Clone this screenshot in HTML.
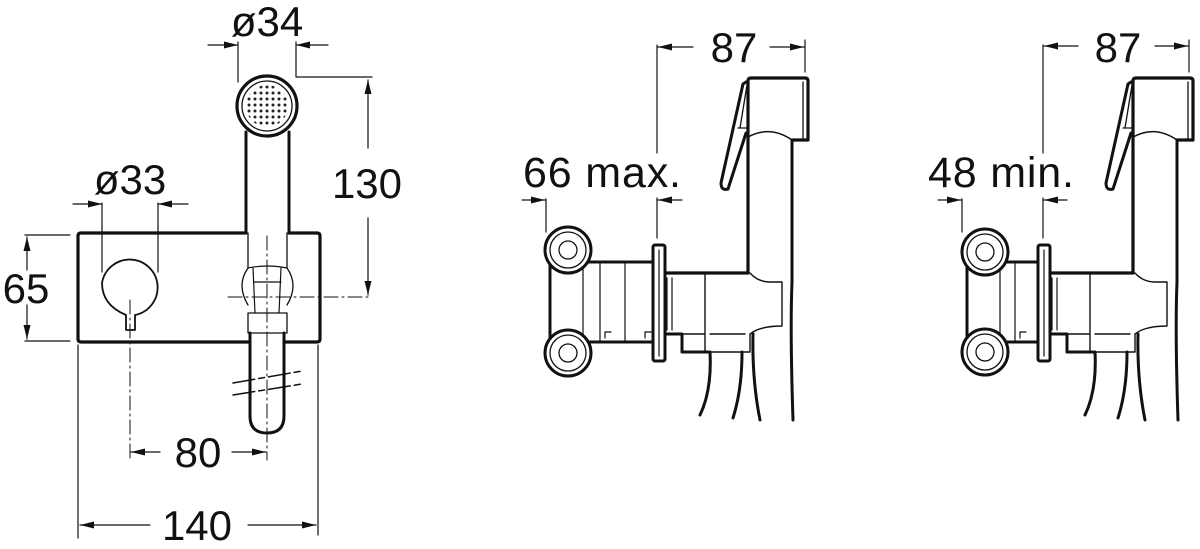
<!DOCTYPE html>
<html><head><meta charset="utf-8"><style>
html,body{margin:0;padding:0;background:#fff}
svg{display:block}
text{font-family:"Liberation Sans",Arial,sans-serif;fill:#111}
</style></head><body>
<svg width="1200" height="549" viewBox="0 0 1200 549" xmlns="http://www.w3.org/2000/svg">
<defs>
<marker id="a" markerUnits="userSpaceOnUse" markerWidth="14" markerHeight="8" refX="14" refY="4" orient="auto"><path d="M0,0.5 L14,4 L0,7.5z" fill="#111"/></marker>
<pattern id="dots" width="6" height="6" patternUnits="userSpaceOnUse"><circle cx="3" cy="3" r="1.5" fill="#222"/></pattern>
<g id="spout" fill="none" stroke="#111" stroke-linejoin="round" stroke-linecap="round">
 <path d="M748,137 L748,81 Q748,78 751,78 L805,78 Q808,78 808,81 L808,140 L792,140" stroke-width="3.2"/>
 <path d="M803,82 L803,140" stroke-width="1.3"/>
 <path d="M748,137 Q770,125 792,140" stroke-width="1.5"/>
 <path d="M746,82 L743,84 L721,183 Q721,191 728,189 L746,133" stroke-width="3"/>
 <path d="M738,128 L748,128 M747,85 L740,128" stroke-width="1.3"/>
 <path d="M748,137 L748,273 L665,273" stroke-width="3.2"/>
 <path d="M792,140 L792,282 Q790,330 793,420" stroke-width="3"/>
 <path d="M750,273 Q758,282 770,282 L782,282 L782,326 Q760,326 750,334" stroke-width="1.4"/>
 <path d="M665,334 L682,334 L682,352 L708,352" stroke-width="3"/>
 <path d="M705,273 L705,352 M682,334 L705,334 M710,334 L745,334 M750,334 L750,352 L708,352" stroke-width="1.4"/>
 <path d="M667,278 L667,330 M672,278 L672,330" stroke-width="1.2"/>
 <path d="M710,352 Q712,390 700,415 M742,352 Q742,390 733,418 M753,334 Q752,380 760,420" stroke-width="3"/>
 <rect x="653" y="245" width="12" height="116" rx="2" stroke-width="3"/>
 <path d="M659,250 L659,356" stroke-width="1.2"/>
</g>
</defs>

<g fill="none" stroke="#111" stroke-linecap="round" stroke-linejoin="round">
 <path d="M246,233 L81,233 Q78,233 78,236 L78,339 Q78,342 81,342 L250,342 M284,342 L317,342 Q320,342 320,339 L320,236 Q320,233 317,233 L289,233" stroke-width="3.2"/>
 <path d="M246,132 L246,233 M289,132 L289,233" stroke-width="3"/>
 <path d="M248,233 L248,268 M287,233 L287,268" stroke-width="1.3"/>
 <circle cx="267" cy="106" r="30" stroke-width="3.2"/>
 <circle cx="267" cy="106" r="25" stroke-width="1.3"/>
 <circle cx="267" cy="106" r="21" fill="url(#dots)" stroke="none"/>
 <path d="M248,268 Q236,285 248,305 M287,268 Q299,285 287,305" stroke-width="1.3"/>
 <path d="M248,268 Q267,264 287,268" stroke-width="1.2"/>
 <path d="M253,268 L255,313 M281,268 L279,313 M254,282 L281,282" stroke-width="1.2"/>
 <rect x="248" y="313" width="39" height="20" stroke-width="1.3"/>
 <path d="M250,333 L250,416 Q250,433 267,433 Q284,433 284,416 L284,333" stroke-width="3"/>
 <path d="M233,383 L302,371 M233,395 L302,384" stroke-width="1.5" stroke-dasharray="22,4,6,4"/>
 <path d="M126,315 Q102,305 102,283 A28,28 0 1 1 135,315 L135,330 L126,330 Z" stroke-width="1.8"/>
 <path d="M130,300 L130,460 M267,236 L267,460 M228,297 L372,297" stroke-width="1" stroke-dasharray="14,4,2,4"/>
 <g stroke-width="1.2">
  <path d="M238,42 L238,82 M296,42 L296,77 M296,77 L372,77"/>
  <path d="M208,45 L238,45" marker-end="url(#a)"/>
  <path d="M328,45 L296,45" marker-end="url(#a)"/>
  <path d="M368,148 L368,80" marker-end="url(#a)"/>
  <path d="M368,218 L368,295" marker-end="url(#a)"/>
  <path d="M102,203 L102,272 M158,203 L158,272"/>
  <path d="M73,204 L102,204" marker-end="url(#a)"/>
  <path d="M188,204 L158,204" marker-end="url(#a)"/>
  <path d="M25,235 L70,235 M25,341 L70,341"/>
  <path d="M27,270 L27,237" marker-end="url(#a)"/>
  <path d="M27,305 L27,339" marker-end="url(#a)"/>
  <path d="M160,452 L131,452" marker-end="url(#a)"/>
  <path d="M232,452 L266,452" marker-end="url(#a)"/>
  <path d="M78,345 L78,538 M318,345 L318,535"/>
  <path d="M150,525 L80,525" marker-end="url(#a)"/>
  <path d="M248,525 L316,525" marker-end="url(#a)"/>
 </g>
</g>
<text x="267" y="36" font-size="42" text-anchor="middle">ø34</text>
<text x="367" y="198" font-size="42" text-anchor="middle">130</text>
<text x="130" y="194" font-size="42" text-anchor="middle">ø33</text>
<text x="26" y="303" font-size="42" text-anchor="middle">65</text>
<text x="198" y="467" font-size="42" text-anchor="middle">80</text>
<text x="197" y="540" font-size="42" text-anchor="middle">140</text>

<use href="#spout"/>
<g fill="none" stroke="#111" stroke-linecap="round" stroke-linejoin="round">
 <path d="M552,262 L653,262 M552,342 L653,342" stroke-width="3"/>
 <path d="M550,262 L550,342" stroke-width="3"/>
 <path d="M583,262 L583,342 M600,262 L600,342 M625,262 L625,342" stroke-width="1.2"/>
 <path d="M605,338 L605,332 L611,332 M645,338 L645,332 L651,332" stroke-width="1.2"/>
 <circle cx="568" cy="250" r="23" fill="#fff" stroke-width="3"/>
 <circle cx="568" cy="250" r="18" stroke-width="1.3"/>
 <circle cx="568" cy="250" r="9" stroke-width="1.3"/>
 <circle cx="568" cy="353" r="23" fill="#fff" stroke-width="3"/>
 <circle cx="568" cy="353" r="18" stroke-width="1.3"/>
 <circle cx="568" cy="353" r="9" stroke-width="1.3"/>
 <g stroke-width="1.2">
  <path d="M657,45 L657,153 M657,198 L657,238 M805,40 L805,72 M546,199 L546,232"/>
  <path d="M693,47 L658,47" marker-end="url(#a)"/>
  <path d="M770,47 L804,47" marker-end="url(#a)"/>
  <path d="M522,200 L545,200" marker-end="url(#a)"/>
  <path d="M682,200 L658,200" marker-end="url(#a)"/>
 </g>
</g>
<text x="734" y="62" font-size="42" text-anchor="middle">87</text>
<text x="523" y="187" font-size="43" textLength="158" lengthAdjust="spacing">66 max.</text>

<use href="#spout" transform="translate(385,0)"/>
<g fill="none" stroke="#111" stroke-linecap="round" stroke-linejoin="round">
 <path d="M968,262 L1038,262 M968,342 L1038,342" stroke-width="3"/>
 <path d="M967,262 L967,342" stroke-width="3"/>
 <path d="M1000,262 L1000,342 M1015,262 L1015,342" stroke-width="1.2"/>
 <path d="M1020,338 L1020,332 L1026,332" stroke-width="1.2"/>
 <circle cx="985" cy="252" r="23" fill="#fff" stroke-width="3"/>
 <circle cx="985" cy="252" r="18" stroke-width="1.3"/>
 <circle cx="985" cy="252" r="9" stroke-width="1.3"/>
 <circle cx="985" cy="352" r="23" fill="#fff" stroke-width="3"/>
 <circle cx="985" cy="352" r="18" stroke-width="1.3"/>
 <circle cx="985" cy="352" r="9" stroke-width="1.3"/>
 <g stroke-width="1.2">
  <path d="M1043,45 L1043,153 M1043,198 L1043,238 M1189,40 L1189,72 M962,199 L962,232"/>
  <path d="M1078,46 L1044,46" marker-end="url(#a)"/>
  <path d="M1155,46 L1188,46" marker-end="url(#a)"/>
  <path d="M938,200 L961,200" marker-end="url(#a)"/>
  <path d="M1067,200 L1044,200" marker-end="url(#a)"/>
 </g>
</g>
<text x="1118" y="62" font-size="42" text-anchor="middle">87</text>
<text x="928" y="187" font-size="43" textLength="146" lengthAdjust="spacing">48 min.</text>
</svg>
</body></html>
